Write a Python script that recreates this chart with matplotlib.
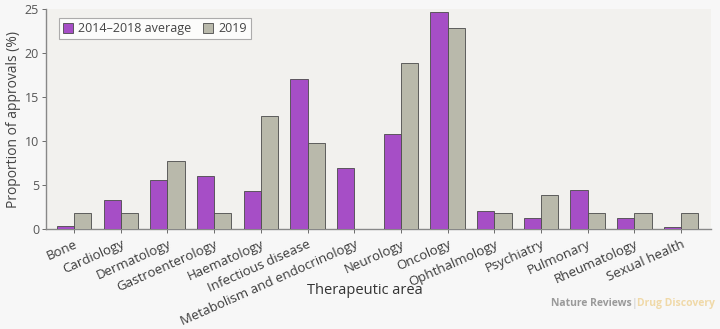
import matplotlib
matplotlib.use("Agg")
import matplotlib.pyplot as plt
import numpy as np

categories = ["Bone", "Cardiology", "Dermatology", "Gastroenterology", "Haematology",
              "Infectious disease", "Metabolism and endocrinology", "Neurology", "Oncology",
              "Ophthalmology", "Psychiatry", "Pulmonary", "Rheumatology", "Sexual health"]
avg_2014_2018 = [0.4, 3.3, 5.6, 6.1, 4.3, 17.0, 6.9, 10.8, 24.7, 2.1, 1.3, 4.5, 1.3, 0.3]
y2019 = [1.9, 1.9, 7.8, 1.9, 12.8, 9.8, 0.0, 18.9, 22.8, 1.9, 3.9, 1.9, 1.9, 1.9]
yticks = [0, 5, 10, 15, 20, 25]

plt.rcParams['font.family'] = ['Open Sans', 'DejaVu Sans']

fig = plt.figure(figsize=(7.2, 3.29), dpi=100, facecolor="#f7f7f7")
ax = fig.add_axes([0.064, 0.303, 0.924, 0.670])
ax.set_facecolor("#f2f1ee")

x = np.arange(len(categories))
w = 0.37
purple = "#a64ec6"
gray = "#b9b9ab"
edge = "#4a4a4a"
ax.bar(x - w/2, avg_2014_2018, w, color=purple, edgecolor=edge, linewidth=0.6,
       label="2014\u20132018 average", zorder=3)
ax.bar(x + w/2, y2019, w, color=gray, edgecolor=edge, linewidth=0.6,
       label="2019", zorder=3)

ax.set_xlim(-0.6, len(categories) - 1 + 0.65)
ax.set_ylim(0, 25)
ax.set_yticks(yticks)
ax.set_xticks(x)
ax.set_xticklabels(categories, rotation=24, ha="right", rotation_mode="anchor",
                   fontsize=9.5, color="#3a3a3a")
ax.tick_params(axis="y", labelsize=9, colors="#555555", length=3, width=0.6, pad=2)
ax.tick_params(axis="x", length=3, width=0.6, color="#555555", pad=3)
for s in ["top", "right"]:
    ax.spines[s].set_visible(False)
for s in ["left", "bottom"]:
    ax.spines[s].set_color("#888888")
    ax.spines[s].set_linewidth(1.0)

ax.set_ylabel("Proportion of approvals (%)", fontsize=10, color="#444444", labelpad=3)
fig.text(365 / 720, 1 - 291 / 329, "Therapeutic area", fontsize=10.5, color="#333333",
         ha="center", va="center")

leg = ax.legend(loc="upper left", ncol=2, fontsize=9, frameon=True, fancybox=False,
                handlelength=0.8, handleheight=0.8, handletextpad=0.4, columnspacing=1.0,
                borderpad=0.3, bbox_to_anchor=(0.01, 0.985))
leg.get_frame().set_edgecolor("#999999")
leg.get_frame().set_facecolor("#ffffff")
leg.get_frame().set_linewidth(0.8)
for t in leg.get_texts():
    t.set_color("#444444")

fig.text(0.878, 0.07, "Nature Reviews", fontsize=7.5, color="#9a9a9a", ha="right",
         weight="bold")
fig.text(0.881, 0.07, "|", fontsize=7.5, color="#c8c8c8", ha="center")
fig.text(0.885, 0.07, "Drug Discovery", fontsize=7.5, color="#f0d9a8", ha="left",
         weight="bold")

fig.savefig("out.png", dpi=100, facecolor=fig.get_facecolor())
